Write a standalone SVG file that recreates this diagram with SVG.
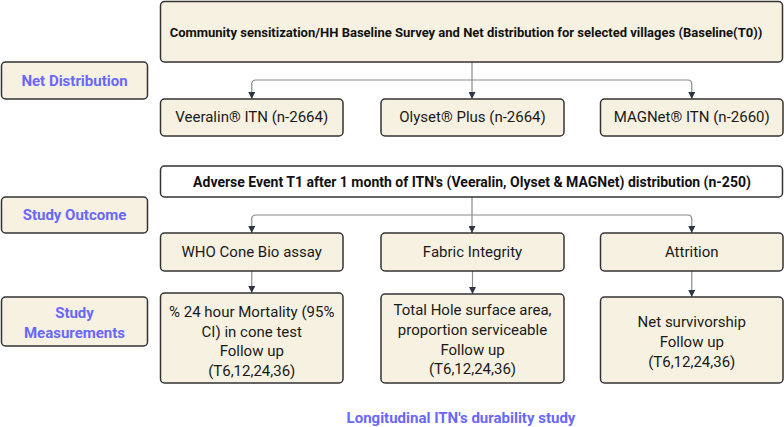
<svg xmlns="http://www.w3.org/2000/svg" width="784" height="427" viewBox="0 0 784 427">
<style>
.box{fill:#f6f1e1;stroke:#333;stroke-width:1.5}
.wbox{fill:#fff;stroke:#333;stroke-width:1.5}
.t{font-family:Roboto,"Liberation Sans",sans-serif;font-size:15px;fill:#1a1a1a;text-anchor:middle}
.b{font-family:Roboto,"Liberation Sans",sans-serif;font-size:14px;font-weight:700;fill:#111;text-anchor:middle}
.b13{font-size:13px}
.lab{font-family:Roboto,"Liberation Sans",sans-serif;font-size:15px;font-weight:700;fill:#6a67fb;text-anchor:middle}
.c{fill:none;stroke:#8a8a8a;stroke-width:1.2}
</style>
<defs>
<marker id="ah" viewBox="0 0 10 10" refX="10" refY="5" markerWidth="9" markerHeight="7" markerUnits="userSpaceOnUse" orient="auto">
<path d="M0,0 L10,5 L0,10 z" fill="#2f3542"/>
</marker>
</defs>
<rect width="784" height="427" fill="#fff"/>
<g id="connectors">
<path class="c" d="M472,62 V80"/>
<path class="c" d="M472,80 H256 Q251.75,80 251.75,84 V99" marker-end="url(#ah)"/>
<path class="c" d="M472,80 V99" marker-end="url(#ah)"/>
<path class="c" d="M472,80 H687.75 Q691.75,80 691.75,84 V99" marker-end="url(#ah)"/>
<path class="c" d="M472,197 V215"/>
<path class="c" d="M472,215 H256 Q251.75,215 251.75,219 V233" marker-end="url(#ah)"/>
<path class="c" d="M472,215 V233" marker-end="url(#ah)"/>
<path class="c" d="M472,215 H687.75 Q691.75,215 691.75,219 V233" marker-end="url(#ah)"/>
<path class="c" d="M251.75,271 V293" marker-end="url(#ah)"/>
<path class="c" d="M472.5,271 V294" marker-end="url(#ah)"/>
<path class="c" d="M691.75,271 V297" marker-end="url(#ah)"/>
</g>
<g id="baseline">
<rect class="box" x="160.5" y="1.5" width="622" height="60.5" rx="4"/>
<text class="b b13" x="466" y="36.5">Community sensitization/HH Baseline Survey and Net distribution for selected villages (Baseline(T0))</text>
</g>
<g id="net-distribution">
<rect class="box" x="1.5" y="62" width="146" height="37" rx="4"/>
<text class="lab" x="74.5" y="86">Net Distribution</text>
</g>
<g id="veeralin">
<rect class="box" x="160.5" y="99" width="182.5" height="37" rx="4"/>
<text class="t" x="251.75" y="122">Veeralin® ITN (n-2664)</text>
</g>
<g id="olyset">
<rect class="box" x="381" y="99" width="183" height="37" rx="4"/>
<text class="t" x="472.5" y="122">Olyset® Plus (n-2664)</text>
</g>
<g id="magnet">
<rect class="box" x="600.5" y="99" width="182.5" height="37" rx="4"/>
<text class="t" x="691.75" y="122">MAGNet® ITN (n-2660)</text>
</g>
<g id="adverse">
<rect class="wbox" x="160.5" y="166" width="622" height="31" rx="4"/>
<text class="b" x="472" y="187">Adverse Event T1 after 1 month of ITN's (Veeralin, Olyset &amp; MAGNet) distribution (n-250)</text>
</g>
<g id="study-outcome">
<rect class="box" x="1.5" y="197" width="146" height="36" rx="4"/>
<text class="lab" x="74.5" y="220">Study Outcome</text>
</g>
<g id="who-cone">
<rect class="box" x="160.5" y="233" width="182.5" height="38" rx="4"/>
<text class="t" x="251.75" y="257">WHO Cone Bio assay</text>
</g>
<g id="fabric">
<rect class="box" x="381" y="233" width="183" height="38" rx="4"/>
<text class="t" x="472.5" y="257">Fabric Integrity</text>
</g>
<g id="attrition">
<rect class="box" x="600.5" y="233" width="182.5" height="38" rx="4"/>
<text class="t" x="691.75" y="257">Attrition</text>
</g>
<g id="study-measurements">
<rect class="box" x="1.5" y="297" width="146" height="49" rx="4"/>
<text class="lab" x="74.5" y="318">Study</text>
<text class="lab" x="74.5" y="338">Measurements</text>
</g>
<g id="mortality">
<rect class="box" x="160.5" y="293" width="182.5" height="90" rx="4"/>
<text class="t" x="251.75" y="317">% 24 hour Mortality (95%</text>
<text class="t" x="251.75" y="337">CI) in cone test</text>
<text class="t" x="251.75" y="356">Follow up</text>
<text class="t" x="251.75" y="376">(T6,12,24,36)</text>
</g>
<g id="hole-area">
<rect class="box" x="381" y="294" width="183" height="89" rx="4"/>
<text class="t" x="472.5" y="315">Total Hole surface area,</text>
<text class="t" x="472.5" y="335">proportion serviceable</text>
<text class="t" x="472.5" y="355">Follow up</text>
<text class="t" x="472.5" y="374">(T6,12,24,36)</text>
</g>
<g id="survivorship">
<rect class="box" x="600.5" y="297" width="182.5" height="86" rx="4"/>
<text class="t" x="691.75" y="327">Net survivorship</text>
<text class="t" x="691.75" y="347">Follow up</text>
<text class="t" x="691.75" y="367">(T6,12,24,36)</text>
</g>
<g id="title">
<text class="lab" x="461" y="423">Longitudinal ITN's durability study</text>
</g>
</svg>
